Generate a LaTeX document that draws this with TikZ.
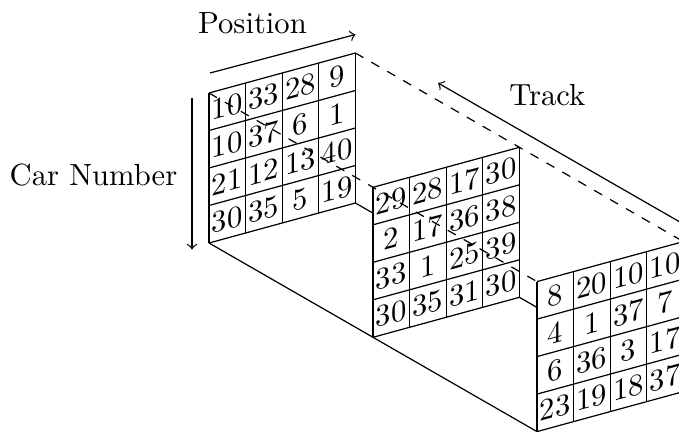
\documentclass[tikz,border=0pt]{standalone}
\usetikzlibrary{calc}
\begin{document}
\begin{tikzpicture}[x=0.3268pt,y=-0.3268pt,
  cell/.style={yslant=0.273,inner sep=0pt,anchor=center},
  lbl/.style={inner sep=0pt,anchor=base},
  hidden/.style={dashed}]
\clip (0,0) rectangle (679,432);

% panel origins (top-left corners) and their other corners
\coordinate (p1) at (209,93);
\coordinate (p2) at (373,187.3);
\coordinate (p3) at (537,281.6);
\foreach \p in {1,2,3}{
  \coordinate (p\p tr) at ($(p\p)+(146.4,-40)$);
  \coordinate (p\p bl) at ($(p\p)+(0,150)$);
  \coordinate (p\p br) at ($(p\p)+(146.4,110)$);
}

% grid lines of the three panels
\foreach \p in {1,2,3}{
  \foreach \k in {0,...,4}{
    \draw ($(p\p)+({\k*36.6},{-10*\k})$) -- ++(0,150);
    \draw ($(p\p)+(0,{37.5*\k})$) -- ++(146.4,-40);
  }
}

% cell values, one row per entry
\foreach \p/\j/\vA/\vB/\vC/\vD in {
  1/0/10/33/28/9, 1/1/10/37/6/1, 1/2/21/12/13/40, 1/3/30/35/5/19,
  2/0/29/28/17/30, 2/1/2/17/36/38, 2/2/33/1/25/39, 2/3/30/35/31/30,
  3/0/8/20/10/10, 3/1/4/1/37/7, 3/2/6/36/3/17, 3/3/23/19/18/37}{
  \foreach \v [count=\i from 0] in {\vA,\vB,\vC,\vD}
    \node[cell] (c\p-\i-\j) at ($(p\p)+({(\i+0.5)*36.6},{(\i+0.5)*(-10)+(\j+0.5)*37.5})$) {\v};
}

% hidden edges
\draw[hidden] (p1) -- (p3);
\draw[hidden] (p1tr) -- (p3tr);

% visible edges along the track
\draw (p1bl) -- (p3bl);
\draw (p1br) -- (intersection of p1br--p2br and p2--p2bl);
\draw (p2br) -- (intersection of p2br--p3br and p3--p3bl);

% axis arrows and their labels
\coordinate (posA) at (210,73);
\coordinate (posB) at (355.5,34.5);
\draw[->] (posA) -- (posB);
\node[lbl] (position) at (252.5,33.5) {Position};

\coordinate (carA) at (192,98);
\coordinate (carB) at (192,249.5);
\draw[->] (carA) -- (carB);
\node[lbl] (carnumber) at (93.5,185) {Car Number};

\coordinate (trackA) at (683.4,224);
\coordinate (trackB) at (438,83);
\draw[->] (trackA) -- (trackB);
\node[lbl] (track) at (547.3,105) {Track};
\end{tikzpicture}
\end{document}
